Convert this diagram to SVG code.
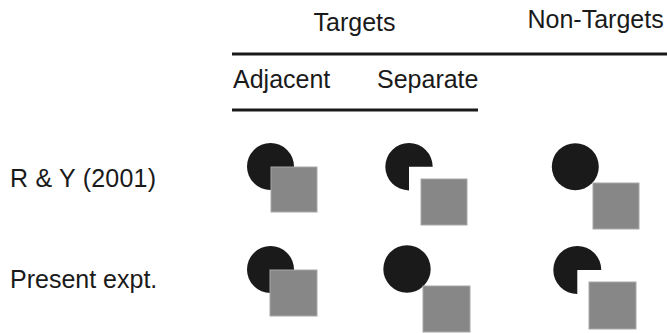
<svg xmlns="http://www.w3.org/2000/svg" width="667" height="333" viewBox="0 0 667 333">
<style>
text{font-family:"Liberation Sans",Arial,sans-serif;font-size:25px;fill:#1a1a1a}
.c{fill:#1a1a1a}
.s{fill:#878787;stroke:#a8a8a8;stroke-width:1}
.rule{stroke:#1a1a1a;stroke-width:3}
</style>
<rect width="667" height="333" fill="#fff"/>
<g id="headers">
<text x="313.5" y="31">Targets</text>
<text x="527.5" y="27.5">Non-Targets</text>
<text x="233" y="87.5">Adjacent</text>
<text x="377" y="87.5">Separate</text>
</g>
<g id="rules">
<line class="rule" x1="232" y1="54" x2="667" y2="54"/>
<line class="rule" x1="232" y1="110" x2="478" y2="110"/>
</g>
<g id="row-labels">
<text x="10" y="187" textLength="146">R &amp; Y (2001)</text>
<text x="10" y="288">Present expt.</text>
</g>
<g id="ry-adjacent">
<circle class="c" cx="270.5" cy="166.5" r="23.5"/>
<rect class="s" x="271" y="167" width="46" height="45"/>
</g>
<g id="ry-separate">
<path class="c" d="M409,166.7 L409,190.4 A23.7,23.7 0 1 1 432.7,166.7 Z"/>
<rect class="s" x="421" y="179" width="46" height="46"/>
</g>
<g id="ry-nontarget">
<circle class="c" cx="575.3" cy="166.7" r="23.5"/>
<rect class="s" x="593" y="183" width="46" height="46"/>
</g>
<g id="pe-adjacent">
<circle class="c" cx="270.5" cy="269.5" r="23.5"/>
<rect class="s" x="270" y="270" width="47" height="46"/>
</g>
<g id="pe-separate">
<circle class="c" cx="407" cy="269" r="23.7"/>
<rect class="s" x="423" y="286" width="47" height="46"/>
</g>
<g id="pe-nontarget">
<path class="c" d="M577.3,270 L577.3,294 A24,24 0 1 1 601.3,270 Z"/>
<rect class="s" x="589" y="282" width="47" height="47"/>
</g>
</svg>
